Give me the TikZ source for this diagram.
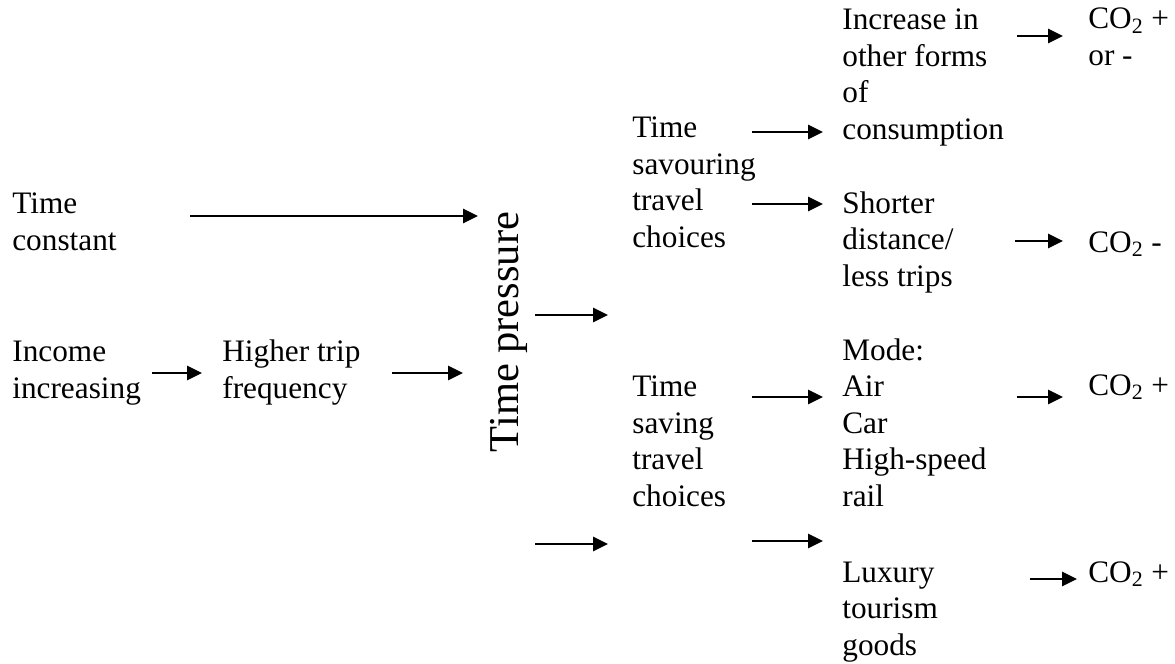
\documentclass[tikz,border=0pt]{standalone}
\usepackage{fontspec}
\setmainfont{Liberation Serif}
\usetikzlibrary{arrows.meta}
\tikzset{
  flow/.style={-{Triangle[length=8.5pt,width=8pt]}, line width=1.3pt, color=black},
  txt/.style={anchor=base west, align=left, inner sep=0pt, font=\fontsize{17.8}{20.7}\selectfont},
  big/.style={rotate=90, inner sep=0pt, font=\fontsize{24.2}{29}\selectfont},
}
\begin{document}
\begin{tikzpicture}[x=0.02cm,y=-0.02cm]
  \useasboundingbox (0,0) rectangle (1175,663);
  % causes (placed by the baseline of the last line)
  \node[txt] (tconst) at (12,250) {Time\\constant};
  \node[txt] (income) at (12,398) {Income\\increasing};
  \node[txt] (higher) at (222,398) {Higher trip\\frequency};
  \node[big] (tpress) at (509,332) {Time pressure};
  % choices
  \node[txt] (savour) at (632,247) {Time\\savouring\\travel\\choices};
  \node[txt] (saving) at (632,506) {Time\\saving\\travel\\choices};
  % outcomes
  \node[txt] (consum) at (842,139) {Increase in\\other forms\\of\\consumption};
  \node[txt] (shorter) at (842,286) {Shorter\\distance/\\less trips};
  \node[txt] (mode) at (842,506) {Mode:\\Air\\Car\\High-speed\\rail};
  \node[txt] (luxury) at (842,655) {Luxury\\tourism\\goods};
  % emissions
  \node[txt] (co2a) at (1088,65) {CO\textsubscript{2} +\\or -};
  \node[txt] (co2b) at (1088,252) {CO\textsubscript{2} -};
  \node[txt] (co2c) at (1088,395) {CO\textsubscript{2} +};
  \node[txt] (co2d) at (1088,582) {CO\textsubscript{2} +};
  % arrows
  \foreach \n/\a/\b/\y in {a1/190/478/216, a2/152/202/373, a3/392/463/373,
      a4/535/608/315, a5/535/608/544, a6/752/823/132, a7/752/823/204,
      a8/752/823/397, a9/752/823/541, a10/1017/1063/36, a11/1015/1063/241,
      a12/1017/1063/397, a13/1030/1077/579}{
    \coordinate (\n s) at (\a,\y);
    \coordinate (\n e) at (\b,\y);
    \draw[flow] (\n s) -- (\n e);
  }
\end{tikzpicture}
\end{document}
